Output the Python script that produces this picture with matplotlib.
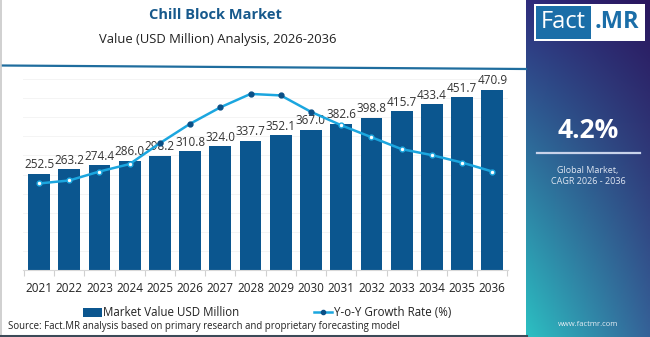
import numpy as np
import matplotlib
matplotlib.use("Agg")
import matplotlib.pyplot as plt
from matplotlib.lines import Line2D
from matplotlib.patches import Patch, Rectangle

plt.rcParams['font.family'] = ['Open Sans', 'DejaVu Sans']

years = ["2021", "2022", "2023", "2024", "2025", "2026", "2027", "2028",
         "2029", "2030", "2031", "2032", "2033", "2034", "2035", "2036"]
market_value = [252.5, 263.2, 274.4, 286.0, 298.2, 310.8, 324.0, 337.7,
                352.1, 367.0, 382.6, 398.8, 415.7, 433.4, 451.7, 470.9]
yoy_growth = [4.00, 4.02, 4.08, 4.13, 4.27, 4.40, 4.51, 4.60,
              4.59, 4.48, 4.39, 4.31, 4.23, 4.19, 4.14, 4.08]
highlight = [False, False, False, False, True, True, True, True,
             True, True, False, False, False, False, False, False]

W, H = 650, 337
fig = plt.figure(figsize=(W / 100, H / 100), dpi=100)
fig.patch.set_facecolor("white")

bar_color = "#0b568f"
line_color = "#1ba6df"
dot_color = "#0b4f86"


def px(x):
    return x / W


def py(y):
    return 1 - y / H


# --- right side panel with gradient ---
panel_x0 = 526 / W
pax = fig.add_axes([panel_x0, 0, 1 - panel_x0, 1])
nx, ny = 60, 200
tl = np.array([0x2f, 0x2c, 0x7c]) / 255
tr = np.array([0x2a, 0x16, 0x5e]) / 255
bl = np.array([0x2c, 0xc0, 0xc2]) / 255
br = np.array([0x35, 0x62, 0x98]) / 255
u = np.linspace(0, 1, nx)[None, :, None]
v = np.linspace(0, 1, ny)[:, None, None]
grad = (tl * (1 - u) * (1 - v) + tr * u * (1 - v) + bl * (1 - u) * v + br * u * v)
pax.imshow(grad, aspect="auto", extent=[0, 1, 1, 0])
pax.set_xlim(0, 1)
pax.set_ylim(1, 0)
pax.axis("off")

# logo
fig.add_artist(Rectangle((px(534), py(41)), px(111), 37 / H, transform=fig.transFigure,
                         facecolor="white", edgecolor="none", zorder=5))
fig.add_artist(Rectangle((px(536), py(39)), px(55), 33 / H, transform=fig.transFigure,
                         facecolor="#1b6ea8", edgecolor="none", zorder=6))
fig.text(px(563), py(22.5), "Fact", color="white", fontsize=17, ha="center", va="center",
         zorder=7)
fig.text(px(617), py(22.5), ".MR", color="#1b6ea8", fontsize=17, fontweight="bold",
         ha="center", va="center", zorder=7)

fig.text(px(588), py(130), "4.2%", color="white", fontsize=19, fontweight="bold",
         ha="center", va="center", zorder=7)
fig.add_artist(Line2D([px(537), px(640)], [py(153), py(153)], color="#c9d3ea", lw=1.6, zorder=7))
fig.text(px(588), py(170), "Global Market,", color="#dfe6f2", fontsize=6.5, ha="center",
         va="center", zorder=7)
fig.text(px(588), py(182), "CAGR 2026 - 2036", color="#dfe6f2", fontsize=6.5, ha="center",
         va="center", zorder=7)
fig.text(px(588), py(324), "www.factmr.com", color="#e6eef5", fontsize=5.5, ha="center",
         va="center", zorder=7)

# --- header ---
fig.text(px(215), py(15), "Chill Block Market", color="#17598c", fontsize=10.5,
         fontweight="bold", ha="center", va="center")
fig.text(px(218), py(40), "Value (USD Million) Analysis, 2026-2036", color="#222222",
         fontsize=9.4, ha="center", va="center")
fig.add_artist(Line2D([px(2), px(526)], [py(65.5), py(69)], color="#1f6d9e", lw=1.6))

# frame lines
fig.add_artist(Line2D([px(0.8), px(0.8)], [py(0), py(337)], color="#c8c8c8", lw=1.2))
fig.add_artist(Line2D([px(0), px(526)], [py(335.5), py(335.5)], color="#3c4a58", lw=2.2))

# --- main chart ---
ax = fig.add_axes([px(23), py(270), px(485), (270 - 79) / H])
x = np.arange(len(years))
ax.bar(x, market_value, width=0.72, color=bar_color, zorder=2)
ax.set_ylim(0, 500)
ax.set_xlim(-0.53, len(years) - 0.48)
for yv in range(50, 501, 50):
    ax.axhline(yv, color="#f2f2f2", lw=0.6, zorder=0)
for xi, v in zip(x, market_value):
    ax.text(xi, v + 7, f"{v:.1f}", ha="center", va="bottom", fontsize=8.5,
            color="#333333", zorder=3)
ax.set_yticks([])
ax.set_xticks(x)
ax.set_xticklabels(years, fontsize=8.5, color="#222222")
ax.tick_params(axis="x", which="major", length=0, pad=9)
ax.set_xticks(np.arange(-0.5, len(years), 1.0), minor=True)
ax.tick_params(axis="x", which="minor", length=4, color="#d0d0d0", width=0.8)
for s in ["top", "right", "left"]:
    ax.spines[s].set_visible(False)
ax.spines["bottom"].set_color("#d8d8d8")
ax.spines["bottom"].set_linewidth(0.8)
ax.patch.set_alpha(0)

ax2 = ax.twinx()
ax2.set_ylim(3.42, 4.70)
ax2.plot(x, yoy_growth, color=line_color, lw=1.8, zorder=4)
hx = [xi for xi, h in zip(x, highlight) if h]
hy = [g for g, h in zip(yoy_growth, highlight) if h]
ox = [xi for xi, h in zip(x, highlight) if not h]
oy = [g for g, h in zip(yoy_growth, highlight) if not h]
ax2.plot(ox, oy, linestyle="none", marker="o", ms=3.5, mfc="white", mec=line_color,
         mew=1.0, zorder=5)
ax2.plot(hx, hy, linestyle="none", marker="o", ms=3.5, mfc=dot_color, mec=dot_color,
         zorder=5)
ax2.axis("off")

# legend
handles = [Patch(facecolor=bar_color, edgecolor="none"),
           Line2D([0], [0], color=line_color, lw=1.8, marker="o", ms=3,
                  mfc=dot_color, mec=dot_color)]
fig.legend(handles, ["Market Value USD Million", "Y-o-Y Growth Rate (%)"],
           loc="center", bbox_to_anchor=(px(267), py(313)), ncol=2, frameon=False,
           fontsize=8.3, handlelength=1.6, handletextpad=0.1, columnspacing=6.5,
           labelcolor="#222222")

fig.text(px(8), py(326), "Source: Fact.MR analysis based on primary research and proprietary forecasting model",
         fontsize=6.9, color="#222222", ha="left", va="center")

fig.savefig("out.png", dpi=100, facecolor="white")
